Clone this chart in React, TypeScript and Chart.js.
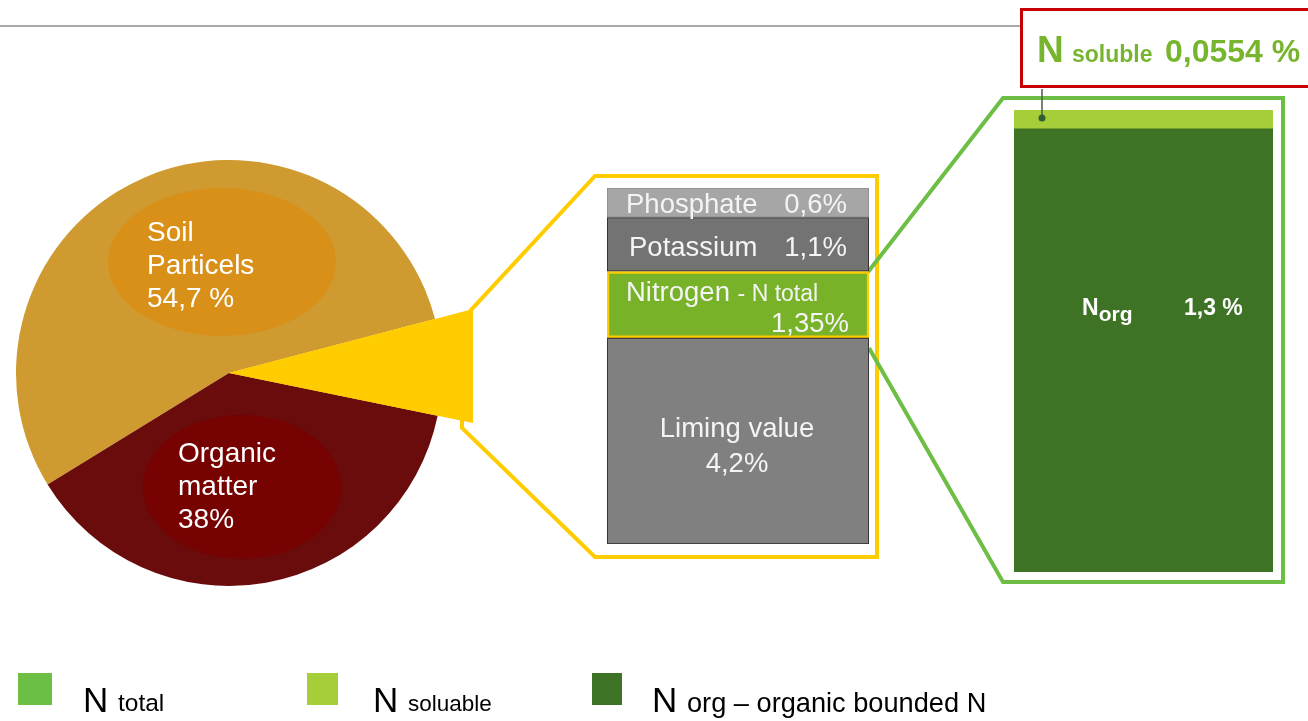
import React, { useEffect, useRef } from "react";
import { Chart, registerables } from "chart.js";
Chart.register(...registerables);

// ---------- data ----------
const pieLabels = ["Soil Particels", "Nutrients", "Organic matter"];
const pieValues = [54.7, 7.3, 38];
const pieColors = ["#CF9A2F", "#FFCC00", "#6A0C0C"];

const nutrientLabels = ["Liming value", "Nitrogen - N total", "Potassium", "Phosphate"];
const nutrientValues = [4.2, 1.35, 1.1, 0.6];
const nutrientColors = ["#808080", "#77B229", "#737373", "#A6A6A6"];
const nutrientBorders = ["#2B2B2B", "#FFCC00", "#2B2B2B", "#8E8E8E"];

const nitrogenLabels = ["N org", "N soluble"];
const nitrogenValues = [1.3, 0.0554];
const nitrogenColors = ["#3E7325", "#A6CE39"];

const legendColors = ["#6CBE45", "#A6CE39", "#3E7325"];

const FONT = '"Liberation Sans", Arial, Helvetica, sans-serif';

// ---------- text helper ----------
type TP = {
  x: number; b: number; size: number; children: React.ReactNode;
  color?: string; weight?: number | string; anchor?: "left" | "right" | "center";
};
function T({ x, b, size, children, color = "#fff", weight = 400, anchor = "left" }: TP) {
  const tx = anchor === "right" ? "translateX(-100%)" : anchor === "center" ? "translateX(-50%)" : "none";
  return (
    <div
      style={{
        position: "absolute", left: x, top: b - 0.8465 * size, fontSize: size, lineHeight: 1,
        fontFamily: FONT, color, fontWeight: weight as any, whiteSpace: "nowrap", transform: tx,
      }}
    >
      {children}
    </div>
  );
}

// ---------- plugins ----------
const pieDecor = {
  id: "pieDecor",
  beforeDatasetsDraw(chart: any) {
    const ctx = chart.ctx as CanvasRenderingContext2D;
    ctx.save();
    ctx.strokeStyle = "#8C8C8C";
    ctx.lineWidth = 1.5;
    ctx.beginPath();
    ctx.moveTo(0, 26);
    ctx.lineTo(1020, 26);
    ctx.stroke();
    ctx.restore();
  },
  afterDatasetsDraw(chart: any) {
    const ctx = chart.ctx as CanvasRenderingContext2D;
    const meta = chart.getDatasetMeta(0);
    const soil = meta.data[0].getProps(["x", "y", "startAngle", "endAngle", "outerRadius"], true);
    const nut = meta.data[1].getProps(["x", "y", "startAngle", "endAngle", "outerRadius"], true);
    const org = meta.data[2].getProps(["x", "y", "startAngle", "endAngle", "outerRadius"], true);

    // inner glows
    const glow = (a: any, color: string, cx: number, cy: number, rx: number, ry: number) => {
      ctx.save();
      ctx.beginPath();
      ctx.moveTo(a.x, a.y);
      ctx.arc(a.x, a.y, a.outerRadius, a.startAngle, a.endAngle);
      ctx.closePath();
      ctx.clip();
      ctx.fillStyle = color;
      ctx.beginPath();
      ctx.ellipse(cx, cy, rx, ry, 0, 0, Math.PI * 2);
      ctx.fill();
      ctx.restore();
    };
    glow(soil, "#D99019", 222, 262, 114, 74);
    glow(org, "#760202", 242, 487, 99, 72);

    // extended nutrient wedge
    const edgeX = 473;
    const y1 = nut.y + Math.tan(nut.startAngle) * (edgeX - nut.x);
    const y2 = nut.y + Math.tan(nut.endAngle) * (edgeX - nut.x);
    ctx.save();
    ctx.fillStyle = "#FFCC00";
    ctx.beginPath();
    ctx.moveTo(nut.x, nut.y);
    ctx.lineTo(edgeX, y1);
    ctx.lineTo(edgeX, y2);
    ctx.closePath();
    ctx.fill();

    // yellow zoom outline
    ctx.strokeStyle = "#FFCC00";
    ctx.lineWidth = 4;
    ctx.lineJoin = "miter";
    ctx.beginPath();
    ctx.moveTo(edgeX - 3, y1 + 2);
    ctx.lineTo(595, 176);
    ctx.lineTo(877, 176);
    ctx.lineTo(877, 557);
    ctx.lineTo(595, 557);
    ctx.lineTo(462, 428);
    ctx.lineTo(462, y2 - 4);
    ctx.stroke();

    // green zoom outline
    ctx.strokeStyle = "#6CBE45";
    ctx.lineWidth = 4;
    ctx.beginPath();
    ctx.moveTo(868, 272);
    ctx.lineTo(1003, 98);
    ctx.lineTo(1283, 98);
    ctx.lineTo(1283, 582);
    ctx.lineTo(1003, 582);
    ctx.lineTo(869, 348);
    ctx.stroke();
    ctx.restore();
  },
};

function useChart(ref: React.RefObject<HTMLCanvasElement>, make: (c: HTMLCanvasElement) => Chart) {
  useEffect(() => {
    if (!ref.current) return;
    const ch = make(ref.current);
    return () => ch.destroy();
  }, []);
}

export default function App() {
  const pieRef = useRef<HTMLCanvasElement>(null);
  const midRef = useRef<HTMLCanvasElement>(null);
  const rightRef = useRef<HTMLCanvasElement>(null);

  useEffect(() => {
    document.body.style.margin = "0";
    document.body.style.overflow = "hidden";
  }, []);

  useChart(pieRef, (c) =>
    new Chart(c, {
      type: "pie",
      data: {
        labels: pieLabels,
        datasets: [{ data: pieValues, backgroundColor: pieColors, borderWidth: 0 }],
      },
      options: {
        responsive: false,
        animation: false,
        rotation: 238.4,
        events: [],
        layout: { padding: { left: 16, top: 160, right: 1308 - 442, bottom: 721 - 586 } },
        plugins: { legend: { display: false }, tooltip: { enabled: false } },
      },
      plugins: [pieDecor],
    } as any)
  );

  const barOpts = (max: number) => ({
    responsive: false,
    animation: false,
    events: [],
    layout: { padding: 0 },
    scales: {
      x: { stacked: true, display: false },
      y: { stacked: true, display: false, min: 0, max },
    },
    plugins: { legend: { display: false }, tooltip: { enabled: false } },
  });

  useChart(midRef, (c) =>
    new Chart(c, {
      type: "bar",
      data: {
        labels: [""],
        datasets: nutrientLabels.map((l, i) => ({
          label: l,
          data: [nutrientValues[i]],
          backgroundColor: nutrientColors[i],
          borderColor: nutrientBorders[i],
          borderWidth: i === 1 ? 2.5 : 1.2,
          borderSkipped: false,
          barPercentage: 1,
          categoryPercentage: 1,
        })),
      },
      options: barOpts(nutrientValues.reduce((a, b) => a + b, 0)),
    } as any)
  );

  useChart(rightRef, (c) =>
    new Chart(c, {
      type: "bar",
      data: {
        labels: [""],
        datasets: nitrogenLabels.map((l, i) => ({
          label: l,
          data: [nitrogenValues[i]],
          backgroundColor: nitrogenColors[i],
          borderWidth: 0,
          barPercentage: 1,
          categoryPercentage: 1,
        })),
      },
      options: barOpts(nitrogenValues.reduce((a, b) => a + b, 0)),
    } as any)
  );

  const g = "#78B52E";
  return (
    <div
      style={{
        position: "absolute", left: 0, top: 0, width: 1308, height: 721, overflow: "hidden",
        background: "#fff", fontFamily: FONT,
      }}
    >
      <canvas ref={pieRef} width={1308} height={721}
        style={{ position: "absolute", left: 0, top: 0, width: 1308, height: 721 }} />
      <canvas ref={midRef} width={262} height={356}
        style={{ position: "absolute", left: 607, top: 188, width: 262, height: 356 }} />
      <canvas ref={rightRef} width={259} height={462}
        style={{ position: "absolute", left: 1014, top: 110, width: 259, height: 462 }} />

      {/* callout */}
      <div style={{ position: "absolute", left: 1020, top: 8, width: 300, height: 80, boxSizing: "border-box", border: "3px solid #C80000" }} />
      <svg width={1308} height={721} style={{ position: "absolute", left: 0, top: 0 }}>
        <line x1={1042} y1={89} x2={1042} y2={117} stroke="#4B5B4B" strokeWidth={1.5} />
        <circle cx={1042} cy={118} r={3.5} fill="#2F5F2F" />
      </svg>
      <T x={1037} b={62} size={37} color={g} weight={700}>N</T>
      <T x={1072} b={62} size={23} color={g} weight={700}>soluble</T>
      <T x={1165} b={62} size={32} color={g} weight={700}>0,0554 %</T>

      {/* pie labels */}
      <T x={147} b={242} size={28}>Soil</T>
      <T x={147} b={275} size={28}>Particels</T>
      <T x={147} b={308} size={28}>54,7 %</T>
      <T x={178} b={463} size={28}>Organic</T>
      <T x={178} b={496} size={28}>matter</T>
      <T x={178} b={529} size={28}>38%</T>

      {/* nutrient labels */}
      <T x={626} b={213} size={27.5} color="#F4F4F4">Phosphate</T>
      <T x={847} b={213} size={27.5} color="#F4F4F4" anchor="right">0,6%</T>
      <T x={629} b={256} size={27.5} color="#F4F4F4">Potassium</T>
      <T x={847} b={256} size={27.5} color="#F4F4F4" anchor="right">1,1%</T>
      <T x={626} b={301} size={27.5} color="#F4F4F4">
        Nitrogen <span style={{ fontSize: 23 }}>- N total</span>
      </T>
      <T x={849} b={332} size={27.5} color="#F4F4F4" anchor="right">1,35%</T>
      <T x={737} b={437} size={27.5} color="#F4F4F4" anchor="center">Liming value</T>
      <T x={737} b={472} size={27.5} color="#F4F4F4" anchor="center">4,2%</T>

      {/* N org label */}
      <T x={1082} b={315} size={23} weight={700}>
        N<span style={{ fontSize: 21, position: "relative", top: 6 }}>org</span>
      </T>
      <T x={1184} b={315} size={23} weight={700}>1,3 %</T>

      {/* legend */}
      {legendColors.map((c, i) => (
        <div key={i} style={{
          position: "absolute", left: [18, 307, 592][i], top: 673,
          width: [34, 31, 30][i], height: 32, background: c,
        }} />
      ))}
      <T x={83} b={712} size={35} color="#000">N</T>
      <T x={118} b={712} size={24.5} color="#000">total</T>
      <T x={373} b={712} size={35} color="#000">N</T>
      <T x={408} b={712} size={22.5} color="#000">soluable</T>
      <T x={652} b={712} size={35} color="#000">N</T>
      <T x={687} b={712} size={27.2} color="#000">org – organic bounded N</T>
    </div>
  );
}
